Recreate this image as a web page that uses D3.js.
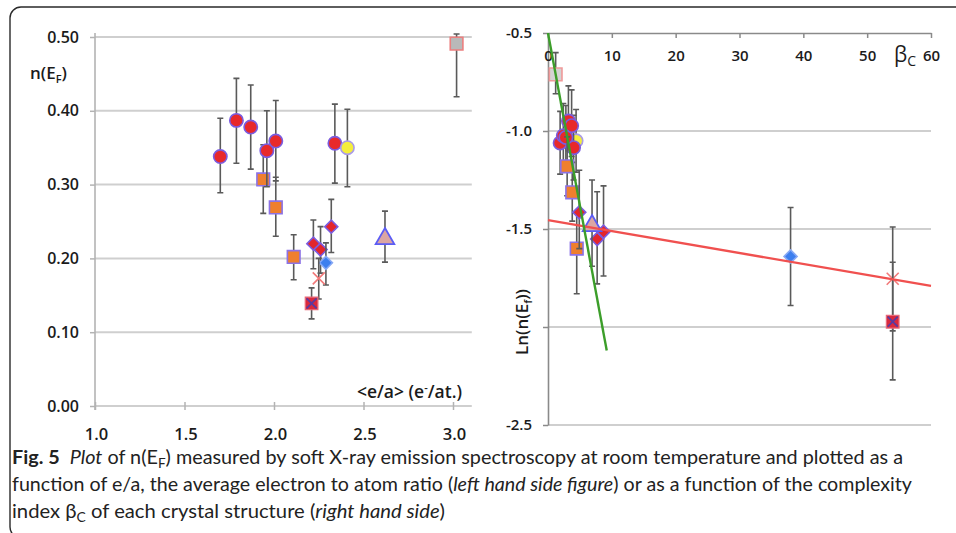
<!DOCTYPE html>
<html lang="en">
<head>
<meta charset="UTF-8"/>
<title>Fig. 5 n(EF) vs e/a and complexity index</title>
<style>
  * { margin: 0; padding: 0; box-sizing: border-box; }
  body { background: #fff; width: 956px; height: 533px; overflow: hidden; }
  svg { display: block; }
  .tick text { font-family: "Open Sans", sans-serif; font-weight: 600; fill: #1b1b1b; }
  .lbl { font-family: "Open Sans", sans-serif; font-weight: 600; fill: #1b1b1b; }
  .cap { font-family: Lato, "Open Sans", sans-serif; fill: #222; font-size: 19px; }
</style>
</head>
<body>
<svg id="fig" width="956" height="533"></svg>
<script src="https://cdn.jsdelivr.net/npm/d3@7/dist/d3.min.js"></script>
<script>
// --- left panel: [e/a, n(EF), error low, error high] ---
const leftRedCircles    = [[1.70, 0.338, 0.289, 0.390], [1.79, 0.387, 0.329, 0.444], [1.87, 0.378, 0.321, 0.435],
                           [1.96, 0.346, 0.297, 0.400], [2.01, 0.359, 0.305, 0.414], [2.34, 0.356, 0.302, 0.409]]
const leftYellowCircles = [[2.41, 0.350, 0.297, 0.402]]
const leftOrangeSquares = [[1.94, 0.307, 0.261, 0.354], [2.01, 0.269, 0.230, 0.310], [2.11, 0.202, 0.171, 0.232]]
const leftRedDiamonds   = [[2.22, 0.220, 0.186, 0.252], [2.26, 0.212, 0.180, 0.243], [2.32, 0.243, 0.208, 0.280]]
const leftBlueDiamonds  = [[2.29, 0.194, 0.164, 0.221]]
const leftPinkCrosses   = [[2.25, 0.173, 0.145, 0.200]]
const leftCrossSquares  = [[2.21, 0.139, 0.118, 0.160]]
const leftTriangles     = [[2.62, 0.228, 0.195, 0.264]]
const leftGraySquares   = [[3.02, 0.491, 0.419, 0.504]]

const leftXTicks = [1.0, 1.5, 2.0, 2.5, 3.0]
const leftYTicks = [0.0, 0.1, 0.2, 0.3, 0.4, 0.5]

// --- right panel: [beta_C, Ln(n(EF)), error low, error high] ---
const rightGraySquares   = [[1.2, -0.711, -0.81, -0.60]]
const rightRedCircles    = [[4.0, -1.085, -1.25, -0.92], [3.2, -0.949, -1.10, -0.77], [3.7, -0.973, -1.13, -0.79],
                            [1.9, -1.061, -1.22, -0.90], [2.4, -1.024, -1.18, -0.86], [2.8, -1.033, -1.19, -0.87]]
const rightYellowCircles = [[4.4, -1.050, -1.21, -0.89]]
const rightOrangeSquares = [[3.0, -1.180, -1.33, -1.03], [3.8, -1.313, -1.46, -1.16], [4.5, -1.600, -1.83, -1.42]]
const rightRedDiamonds   = [[4.9, -1.415, -1.60, -1.20], [7.7, -1.551, -1.78, -1.31], [8.7, -1.514, -1.74, -1.28]]
const rightTriangles     = [[6.9, -1.478, -1.69, -1.25]]
const rightBlueDiamonds  = [[38, -1.640, -1.89, -1.39]]
const rightPinkCrosses   = [[54, -1.754, -2.27, -1.49]]
const rightCrossSquares  = [[54, -1.973, -2.02, -1.67]]

const greenFit = [[0, -0.50], [9.2, -2.12]]
const redFit   = [[0, -1.455], [60, -1.79]]

const rightXTicks = [0, 10, 20, 30, 40, 50, 60]
const rightYTicks = [-0.5, -1.0, -1.5, -2.0, -2.5]

// marker looks, shared by both panels
const STYLE = {
  redCircle:    { shape: 'circle',   fill: '#e8292b', stroke: '#7a5ce0' },
  yellowCircle: { shape: 'circle',   fill: '#f4ee3c', stroke: '#a99be8' },
  orangeSquare: { shape: 'square',   fill: '#ef7f2e', stroke: '#8c72e6' },
  redDiamond:   { shape: 'diamond',  fill: '#e3262c', stroke: '#7a5ce0' },
  blueDiamond:  { shape: 'diamond',  fill: '#3d7fef', stroke: '#86a8f5' },
  pinkCross:    { shape: 'x',        fill: 'none',    stroke: '#f27a7a' },
  crossSquare:  { shape: 'xsquare',  fill: '#d9293d', stroke: '#5a3aa0' },
  triangle:     { shape: 'triangle', fill: '#dba6a3', stroke: '#5b5cf5' },
  graySquare:   { shape: 'square',   fill: '#b9b9b9', stroke: '#ec7f7f' },
  paleSquare:   { shape: 'square',   fill: '#d3d3d3', stroke: '#f09a9a' },
}

const svg = d3.select('#fig')
svg.append('rect').attr('width', 956).attr('height', 533).attr('fill', '#fff')

// figure frame (right and bottom edges run off the picture)
svg.append('rect')
  .attr('x', 10).attr('y', 7).attr('width', 990).attr('height', 531).attr('rx', 11)
  .attr('fill', 'none').attr('stroke', '#2a2a2a').attr('stroke-width', 1.4)

function drawMarker(g, kind, cx, cy) {
  const s = STYLE[kind]
  const m = g.append('g').attr('transform', `translate(${cx},${cy})`)
  if (s.shape === 'circle') {
    m.append('path').attr('d', d3.symbol(d3.symbolCircle, 140)())
      .attr('fill', s.fill).attr('stroke', s.stroke).attr('stroke-width', 1.6)
  } else if (s.shape === 'square') {
    m.append('path').attr('d', d3.symbol(d3.symbolSquare, 160)())
      .attr('fill', s.fill).attr('stroke', s.stroke).attr('stroke-width', 1.6)
  } else if (s.shape === 'diamond') {
    m.append('path').attr('d', d3.symbol(d3.symbolSquare, 85)()).attr('transform', 'rotate(45)')
      .attr('fill', s.fill).attr('stroke', s.stroke).attr('stroke-width', 1.6)
  } else if (s.shape === 'triangle') {
    m.append('path').attr('d', d3.symbol(d3.symbolTriangle, 150)()).attr('transform', 'translate(0,1)')
      .attr('fill', s.fill).attr('stroke', s.stroke).attr('stroke-width', 1.8)
  } else if (s.shape === 'x') {
    m.append('path').attr('d', 'M-6,-6L6,6M-6,6L6,-6')
      .attr('fill', 'none').attr('stroke', s.stroke).attr('stroke-width', 1.6)
  } else if (s.shape === 'xsquare') {
    m.append('path').attr('d', d3.symbol(d3.symbolSquare, 160)())
      .attr('fill', s.fill).attr('stroke', '#e86a7a').attr('stroke-width', 1.2)
    m.append('path').attr('d', 'M-5,-5L5,5M-5,5L5,-5')
      .attr('fill', 'none').attr('stroke', s.stroke).attr('stroke-width', 1.8)
  }
}

function drawSeries(g, rows, kind, x, y) {
  for (const [a, b, lo, hi] of rows) {
    const px = x(a)
    g.append('path')
      .attr('d', `M${px},${y(lo)}V${y(hi)}M${px - 3},${y(lo)}H${px + 3}M${px - 3},${y(hi)}H${px + 3}`)
      .attr('fill', 'none').attr('stroke', '#5a5a5a').attr('stroke-width', 1.6)
  }
  for (const [a, b] of rows) drawMarker(g, kind, x(a), y(b))
}

// ================= left panel =================
const xL = d3.scaleLinear([1, 3], [95, 453])
const yL = d3.scaleLinear([0, 0.5], [406, 37])
const left = svg.append('g')

left.append('g').selectAll('line').data(leftYTicks).join('line')
  .attr('x1', 95).attr('x2', xL(3.105)).attr('y1', d => yL(d)).attr('y2', d => yL(d))
  .attr('stroke', '#cfcfcf').attr('stroke-width', 2)

left.append('line').attr('x1', 95).attr('x2', 95).attr('y1', 33).attr('y2', 410)
  .attr('stroke', '#b3b3b3').attr('stroke-width', 1.6)

left.append('g').attr('transform', 'translate(95,0)')
  .call(d3.axisLeft(yL).tickValues(leftYTicks).tickFormat(d => d.toFixed(2)).tickSize(5).tickPadding(11).tickSizeOuter(0))
  .call(g => g.select('.domain').remove())
  .call(g => g.selectAll('.tick line').attr('stroke', '#b3b3b3').attr('stroke-width', 1.5))
  .call(g => g.selectAll('.tick text').style('font-size', '16px'))

left.append('g').attr('transform', 'translate(0,406)')
  .call(d3.axisBottom(xL).tickValues(leftXTicks).tickFormat(d => d.toFixed(1)).tickSize(4).tickPadding(18).tickSizeOuter(0))
  .call(g => g.select('.domain').remove())
  .call(g => g.selectAll('.tick line').attr('y1', -4).attr('stroke', '#b3b3b3').attr('stroke-width', 1.5))
  .call(g => g.selectAll('.tick text').style('font-size', '16.5px').attr('dx', 1))

const nLabel = left.append('text').attr('class', 'lbl').attr('x', 30).attr('y', 79).style('font-size', '17px')
nLabel.append('tspan').text('n(E')
nLabel.append('tspan').attr('dy', 4).style('font-size', '11px').text('F')
nLabel.append('tspan').attr('dy', -4).text(')')

const eaLabel = left.append('text').attr('class', 'lbl').attr('x', 462).attr('y', 398)
  .attr('text-anchor', 'end').style('font-size', '17.5px')
eaLabel.append('tspan').text('<e/a> (e')
eaLabel.append('tspan').attr('dy', -6).style('font-size', '11px').text('-')
eaLabel.append('tspan').attr('dy', 6).text('/at.)')

drawSeries(left, leftOrangeSquares, 'orangeSquare', xL, yL)
drawSeries(left, leftRedCircles, 'redCircle', xL, yL)
drawSeries(left, leftYellowCircles, 'yellowCircle', xL, yL)
drawSeries(left, leftRedDiamonds, 'redDiamond', xL, yL)
drawSeries(left, leftBlueDiamonds, 'blueDiamond', xL, yL)
drawSeries(left, leftPinkCrosses, 'pinkCross', xL, yL)
drawSeries(left, leftCrossSquares, 'crossSquare', xL, yL)
drawSeries(left, leftTriangles, 'triangle', xL, yL)
drawSeries(left, leftGraySquares, 'graySquare', xL, yL)

// ================= right panel =================
const xR = d3.scaleLinear([0, 60], [548, 931])
const yR = d3.scaleLinear([-0.5, -2.5], [33, 425])
const right = svg.append('g')

right.append('g').selectAll('line').data(rightYTicks.slice(1)).join('line')
  .attr('x1', 548).attr('x2', 931).attr('y1', d => yR(d)).attr('y2', d => yR(d))
  .attr('stroke', '#cfcfcf').attr('stroke-width', 2)

right.append('g').attr('transform', 'translate(548,0)')
  .call(d3.axisLeft(yR).tickValues(rightYTicks).tickFormat(d => d === -2 ? '' : d.toFixed(1)).tickSize(5).tickPadding(11).tickSizeOuter(0))
  .call(g => g.select('.domain').attr('stroke', '#8a8a8a').attr('stroke-width', 1.6))
  .call(g => g.selectAll('.tick line').attr('stroke', '#8a8a8a').attr('stroke-width', 1.5))
  .call(g => g.selectAll('.tick text').style('font-size', '15px'))

right.append('g').attr('transform', 'translate(0,33)')
  .call(d3.axisBottom(xR).tickValues(rightXTicks).tickFormat(d3.format('d')).tickSize(5).tickPadding(12).tickSizeOuter(0))
  .call(g => g.select('.domain').attr('stroke', '#8a8a8a').attr('stroke-width', 1.6))
  .call(g => g.selectAll('.tick line').attr('stroke', '#8a8a8a').attr('stroke-width', 1.5))
  .call(g => g.selectAll('.tick text').style('font-size', '15px'))

const betaLabel = right.append('text').attr('x', 894).attr('y', 62)
  .style('font-family', '"Open Sans", sans-serif').style('fill', '#1b1b1b').style('font-size', '21px')
betaLabel.append('tspan').text('β')
betaLabel.append('tspan').attr('dy', 4).style('font-size', '14px').text('C')

const lnLabel = right.append('text').attr('class', 'lbl')
  .attr('transform', 'translate(528,322) rotate(-90)').attr('text-anchor', 'middle').style('font-size', '17px')
lnLabel.append('tspan').text('Ln(n(E')
lnLabel.append('tspan').attr('dy', 4).style('font-size', '11px').text('f')
lnLabel.append('tspan').attr('dy', -4).text('))')

const fitLine = d3.line().x(d => xR(d[0])).y(d => yR(d[1]))

drawSeries(right, rightGraySquares, 'paleSquare', xR, yR)
drawSeries(right, rightYellowCircles, 'yellowCircle', xR, yR)
drawSeries(right, rightRedCircles, 'redCircle', xR, yR)
drawSeries(right, rightOrangeSquares, 'orangeSquare', xR, yR)
drawSeries(right, rightRedDiamonds, 'redDiamond', xR, yR)
drawSeries(right, rightTriangles, 'triangle', xR, yR)
drawSeries(right, rightBlueDiamonds, 'blueDiamond', xR, yR)
drawSeries(right, rightPinkCrosses, 'pinkCross', xR, yR)
drawSeries(right, rightCrossSquares, 'crossSquare', xR, yR)

right.append('path').attr('d', fitLine(redFit)).attr('fill', 'none').attr('stroke', '#f0504f').attr('stroke-width', 2.4)
right.append('path').attr('d', fitLine(greenFit)).attr('fill', 'none').attr('stroke', '#3c9e2a').attr('stroke-width', 2.4)

// ================= caption =================
const cap = svg.append('g').attr('class', 'cap')

const l1 = cap.append('text').attr('x', 12).attr('y', 464).attr('textLength', 891).attr('lengthAdjust', 'spacingAndGlyphs')
l1.append('tspan').style('font-weight', 700).text('Fig. 5')
l1.append('tspan').text('\u00a0\u00a0')
l1.append('tspan').style('font-style', 'italic').text('Plot')
l1.append('tspan').text(' of n(E')
l1.append('tspan').attr('dy', 4).style('font-size', '13px').text('F')
l1.append('tspan').attr('dy', -4).text(') measured by soft X-ray emission spectroscopy at room temperature and plotted as a')

const l2 = cap.append('text').attr('x', 12).attr('y', 491).attr('textLength', 900).attr('lengthAdjust', 'spacingAndGlyphs')
l2.append('tspan').text('function of e/a, the average electron to atom ratio (')
l2.append('tspan').style('font-style', 'italic').text('left hand side figure')
l2.append('tspan').text(') or as a function of the complexity')

const l3 = cap.append('text').attr('x', 12).attr('y', 518).attr('textLength', 433).attr('lengthAdjust', 'spacingAndGlyphs')
l3.append('tspan').text('index β')
l3.append('tspan').attr('dy', 4).style('font-size', '13px').text('C')
l3.append('tspan').attr('dy', -4).text(' of each crystal structure (')
l3.append('tspan').style('font-style', 'italic').text('right hand side')
l3.append('tspan').text(')')
</script>
</body>
</html>
